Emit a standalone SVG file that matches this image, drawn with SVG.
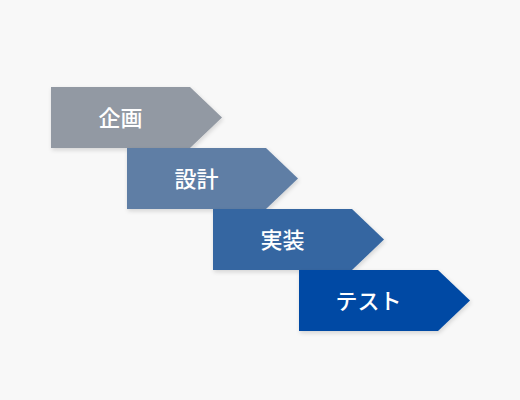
<svg xmlns="http://www.w3.org/2000/svg" width="520" height="400" viewBox="0 0 520 400">
<defs>
<filter id="sh" x="-10%" y="-10%" width="130%" height="140%"><feDropShadow dx="1" dy="2" stdDeviation="2" flood-color="#000" flood-opacity="0.15"/></filter>
</defs>
<style>
.lbl{font-family:"Noto Sans CJK JP","Noto Sans CJK SC",sans-serif;font-size:22px;font-weight:500;fill:#ffffff;text-anchor:middle;dominant-baseline:central}
.s{filter:url(#sh)}
</style>
<rect width="520" height="400" fill="#f8f8f8"/>
<g id="connectors"/>
<g id="n1"><path class="s" d="M51 87H190L222 117.5L190 148H51Z" fill="#9299a3"/><text class="lbl" x="120.5" y="115.5">企画</text></g>
<g id="n2"><path class="s" d="M127 148H266L298 178.5L266 209H127Z" fill="#5f7ea5"/><text class="lbl" x="196.5" y="176.5">設計</text></g>
<g id="n3"><path class="s" d="M213 209H352L384 239.5L352 270H213Z" fill="#3466a1"/><text class="lbl" x="282.5" y="237.5">実装</text></g>
<g id="n4"><path class="s" d="M299 270H438L470 300.5L438 331H299Z" fill="#004aa4"/><text class="lbl" x="368.5" y="298.5">テスト</text></g>
</svg>
